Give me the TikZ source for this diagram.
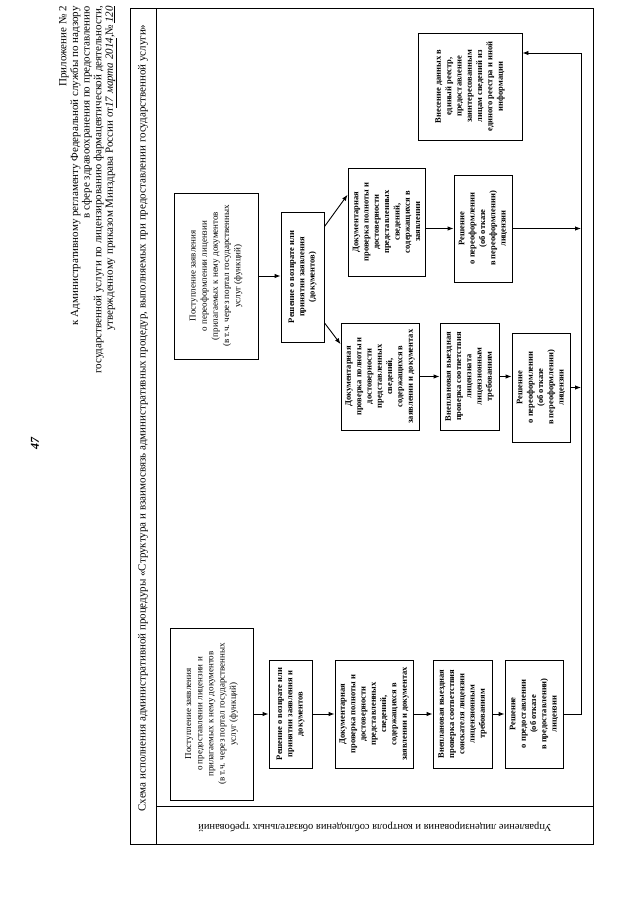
\documentclass[tikz,border=0pt]{standalone}
\usepackage{fontspec}
\setmainfont{Liberation Serif}
\usetikzlibrary{arrows.meta,calc}
\begin{document}
\begin{tikzpicture}[x=1pt,y=-1pt,
  box/.style={draw, line width=0.9pt, rotate=90, align=center, inner sep=1pt,
    font=\fontsize{8.5}{10.3}\selectfont\bfseries},
  boxr/.style={box, font=\fontsize{9}{11.2}\selectfont},
  arr/.style={-{Latex[length=6pt,width=4.5pt]}, line width=0.9pt},
  ln/.style={line width=0.9pt}]
\useasboundingbox (0,0) rectangle (640,905);

% header
\node[rotate=90, anchor=north east, align=right, inner sep=0pt,
  font=\fontsize{11}{11.6}\selectfont] (hdr) at (59,6)
  {Приложение № 2\\
   к Административному регламенту Федеральной службы по надзору\\
   в сфере здравоохранения по предоставлению\\
   государственной услуги по лицензированию фармацевтической деятельности,\\
   утвержденному приказом Минздрава России от\underline{\itshape 17 марта 2014},№\,\underline{\itshape 120}};
\node[rotate=90, font=\fontsize{12}{14}\selectfont\bfseries\itshape] (pg) at (35,443) {47};

% frame
\draw[ln] (130,8) rectangle (593,844);
\coordinate (dvT) at (156,8);
\coordinate (dvB) at (156,844);
\draw[ln] (dvT) -- (dvB);
\coordinate (bandL) at (156,806);
\coordinate (bandR) at (593,806);
\draw[ln] (bandL) -- (bandR);
\node[rotate=90, font=\fontsize{11}{13}\selectfont] (title) at (143,418)
  {Схема исполнения административной процедуры «Структура и взаимосвязь административных процедур, выполняемых при предоставлении государственной услуги»};
\node[rotate=180, font=\fontsize{10.5}{12}\selectfont] (lane) at (375,827)
  {Управление лицензирования и контроля соблюдения обязательных требований};

% upper group
\node[boxr, minimum width=166pt, minimum height=84pt] (A1) at (216,276)
  {Поступление заявления\\о переоформлении лицензии\\(прилагаемых к нему документов\\(в т.ч. через портал государственных\\услуг (функций)};
\node[box, minimum width=130pt, minimum height=43pt] (A2) at (302.5,277)
  {Решение о возврате или\\принятии заявления\\(документов)};
\node[box, minimum width=108pt, minimum height=77pt] (A3) at (386.5,222)
  {Документарная\\проверка полноты и\\достоверности\\представленных\\сведений,\\содержащихся в\\заявлении};
\node[box, minimum width=107pt, minimum height=58pt] (A4) at (483,228.5)
  {Решение\\о переоформлении\\(об отказе\\в переоформлении)\\лицензии};
\node[box, minimum width=107pt, minimum height=78pt] (A5) at (380,376.5)
  {Документарная\\проверка полноты и\\достоверности\\представленных\\сведений,\\содержащихся в\\заявлении и документах};
\node[box, minimum width=107pt, minimum height=59pt] (A6) at (469.5,376.5)
  {Внеплановая выездная\\проверка соответствия\\лицензиата\\лицензионным\\требованиям};
\node[box, minimum width=109pt, minimum height=58pt] (A7) at (541,387.5)
  {Решение\\о переоформлении\\(об отказе\\в переоформлении)\\лицензии};

% lower group
\node[boxr, minimum width=172pt, minimum height=83pt] (B1) at (211.5,714)
  {Поступление заявления\\о предоставлении лицензии и\\прилагаемых к нему документов\\(в т.ч. через портал государственных\\услуг (функций)};
\node[box, minimum width=108pt, minimum height=43pt] (B2) at (290.5,714)
  {Решение о возврате или\\принятии заявления и\\документов};
\node[box, minimum width=108pt, minimum height=78pt] (B3) at (374,714)
  {Документарная\\проверка полноты и\\достоверности\\представленных\\сведений,\\содержащихся в\\заявлении и документах};
\node[box, minimum width=108pt, minimum height=59pt] (B4) at (462.5,714)
  {Внеплановая выездная\\проверка соответствия\\соискателя лицензии\\лицензионным\\требованиям};
\node[box, minimum width=108pt, minimum height=58pt] (B5) at (534,714)
  {Решение\\о предоставлении\\(об отказе\\в предоставлении)\\лицензии};

% registry box
\node[box, minimum width=107pt, minimum height=104pt] (C) at (470,86.5)
  {Внесение данных в\\единый реестр,\\предоставление\\заинтересованным\\лицам сведений из\\единого реестра и иной\\информации};

% bus
\coordinate (busTop) at (581,53);
\coordinate (busBot) at (581,714);

% connectors upper
\draw[arr] (A1.south) -- (A2.north |- A1.south);
\draw[arr] ($(A2.south east)!0.115!(A2.south west)$) -- ($(A3.north east)!0.25!(A3.north west)$);
\draw[arr] ($(A2.south east)!0.85!(A2.south west)$) -- ($(A5.north east)!0.2!(A5.north west)$);
\draw[arr] (A3.south |- A4.center) -- (A4.north);
\draw[arr] (A5.south) -- (A6.north);
\draw[arr] (A6.south) -- (A7.north |- A6.south);
\draw[arr] (A4.south) -- (A4.south -| busTop);
\draw[arr] (A7.south) -- (A7.south -| busTop);

% connectors lower
\draw[arr] (B1.south) -- (B2.north);
\draw[arr] (B2.south) -- (B3.north);
\draw[arr] (B3.south) -- (B4.north);
\draw[arr] (B4.south) -- (B5.north);
\draw[arr] (B5.south) -- (busBot) -- (busTop) -- (C.south |- busTop);
\end{tikzpicture}
\end{document}
